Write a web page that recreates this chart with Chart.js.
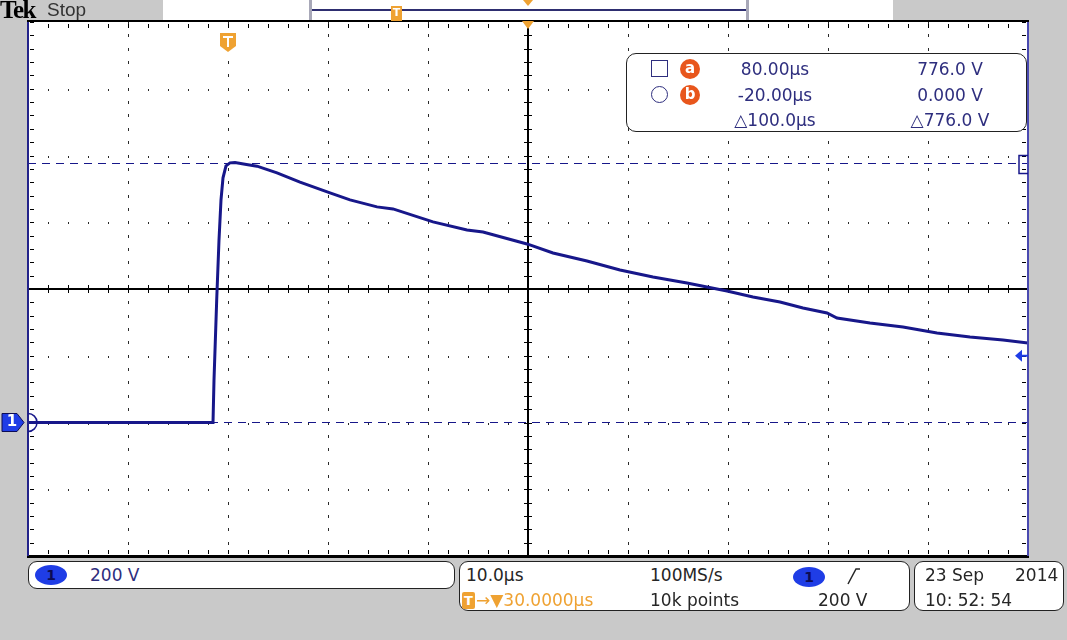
<!DOCTYPE html>
<html>
<head>
<meta charset="utf-8">
<script src="https://cdn.jsdelivr.net/npm/chart.js@4/dist/chart.umd.min.js"></script>
<style>
body{margin:0;background:#c9c9c9;width:1067px;height:640px;overflow:hidden;position:relative;font-family:"DejaVu Sans",sans-serif;}
#plot{position:absolute;left:0;top:0;}
.box{position:absolute;background:#fff;border:1.5px solid #222;border-radius:9px;box-sizing:border-box;}
.t{position:absolute;white-space:nowrap;font-size:17px;line-height:20px;color:#2e2e7e;}
.k{color:#262626;}
.or{color:#efa232;}
.ch{position:absolute;width:32px;height:20px;border-radius:50%;background:#1f3de6;color:#0c0c55;font:bold 14px "DejaVu Sans";text-align:center;line-height:20px;}
.ab{position:absolute;width:20px;height:20px;border-radius:50%;background:#e8561c;color:#fff;font:bold 15px "DejaVu Sans";text-align:center;line-height:19px;}
.sq{position:absolute;width:17px;height:17px;border:1.5px solid #2e2e7e;box-sizing:border-box;}
</style>
</head>
<body>
<canvas id="plot" width="1067" height="640"></canvas>

<!-- top status bar -->
<div class="t" style="left:0;top:-2px;font:bold 25px 'Liberation Serif';color:#000;letter-spacing:-1.5px;line-height:24px">Tek</div>
<div class="t" style="left:47px;top:-1px;font:19px 'Liberation Sans';color:#333;line-height:22px">Stop</div>
<div style="position:absolute;left:163px;top:0;width:730px;height:20px;background:#fff"></div>
<div style="position:absolute;left:309px;top:0;width:3px;height:20px;background:#a8a8b8"></div>
<div style="position:absolute;left:746px;top:0;width:3px;height:20px;background:#a8a8b8"></div>
<div style="position:absolute;left:312px;top:9px;width:434px;height:2px;background:#2e2e70"></div>
<div style="position:absolute;left:391px;top:6px;width:11px;height:15px;background:#efa232;color:#fff;font:bold 11px 'DejaVu Sans';text-align:center;line-height:14px">T</div>
<div style="position:absolute;left:523px;top:0;width:0;height:0;border-left:5px solid transparent;border-right:5px solid transparent;border-top:6px solid #efa232"></div>

<!-- ground marker label -->
<div id="gnd" class="t" style="left:5px;top:412px;width:14px;text-align:center;font:bold 15px 'DejaVu Sans';color:#fff">1</div>

<!-- cursor readout -->
<div class="box" style="left:626px;top:53px;width:401px;height:79px;border-radius:10px"></div>
<div class="sq" style="left:651px;top:60px"></div>
<div class="ab" style="left:680px;top:59px">a</div>
<div class="sq" style="left:651px;top:86px;border-radius:50%"></div>
<div class="ab" style="left:680px;top:85px">b</div>
<div class="t" style="left:700px;top:59px;width:150px;text-align:center">80.00µs</div>
<div class="t" style="left:700px;top:85px;width:150px;text-align:center">-20.00µs</div>
<div class="t" style="left:700px;top:110px;width:150px;text-align:center">△100.0µs</div>
<div class="t" style="left:875px;top:59px;width:150px;text-align:center">776.0 V</div>
<div class="t" style="left:875px;top:85px;width:150px;text-align:center">0.000 V</div>
<div class="t" style="left:875px;top:110px;width:150px;text-align:center">△776.0 V</div>

<!-- bottom: channel box -->
<div class="box" style="left:28px;top:561px;width:427px;height:28px"></div>
<div class="ch" style="left:35px;top:565px">1</div>
<div class="t" style="left:90px;top:565px">200 V</div>

<!-- bottom: horizontal / trigger box -->
<div class="box" style="left:459px;top:561px;width:451px;height:50px"></div>
<div class="t k" style="left:466px;top:565px">10.0µs</div>
<div class="t k" style="left:650px;top:565px">100MS/s</div>
<div class="ch" style="left:793px;top:567px">1</div>
<svg style="position:absolute;left:845px;top:566px" width="18" height="20"><polyline points="3,18 11,3 15,3" fill="none" stroke="#262626" stroke-width="1.5"/></svg>
<div style="position:absolute;left:462px;top:592px;width:13px;height:17px;background:#efa232;color:#fff;font:bold 13px 'DejaVu Sans';text-align:center;line-height:17px;border-radius:2px">T</div>
<div class="t or" style="left:476px;top:590px">→▼30.0000µs</div>
<div class="t k" style="left:650px;top:590px">10k points</div>
<div class="t k" style="left:818px;top:590px">200 V</div>

<!-- bottom: date box -->
<div class="box" style="left:914px;top:561px;width:150px;height:50px"></div>
<div class="t k" style="left:925px;top:565px">23 Sep</div>
<div class="t k" style="left:1015px;top:565px">2014</div>
<div class="t k" style="left:925px;top:590px">10: 52: 54</div>

<script>
// ====== DATA (time relative to trigger, µs / channel 1 volts) ======
const timeUs = [-20, -15, -10, -5, -1.5, -1.4, -1.13, -0.9, -0.7, -0.5, -0.2,
  0.2, 0.7, 1.7, 2.9, 4.9, 7.2, 10.2, 12.2, 14.9, 16.5, 20.5, 23.9, 25.5, 29.9,
  32.5, 35.9, 39.2, 42.5, 45.9, 49.9, 52.5, 55.2, 57.5, 59.9, 60.9, 64.2, 67.5,
  70.9, 74.2, 77.5, 80];
const voltsV = [0, 0, 0, 0, 0, 127, 367, 547, 667, 733, 769,
  778, 779, 774, 768, 748, 720, 688, 667, 646, 640, 601, 577, 571, 535,
  508, 484, 457, 436, 418, 394, 376, 361, 343, 328, 313, 298, 286,
  268, 256, 247, 238];

// ====== SCALE SETTINGS (10 µs/div, 200 V/div) ======
const xRange = [-20, 80];
const xStep = 10;
const yRange = [-400, 1200];
const yStep = 200;
const cursorA = { t: 80, v: 776 };
const cursorB = { t: -20, v: 0 };
const triggerTime = 0;
const triggerLevel = 200;
const groundLevel = 0;

const NAVY = "#17178a";
const BLUE = "#1f3de6";
const ORANGE = "#efa232";

// ====== SCOPE GRATICULE + MARKERS ======
const scopePlugin = {
  id: "scope",
  beforeDraw(c) {
    const { ctx, chartArea: a } = c;
    ctx.save();
    ctx.fillStyle = "#fff";
    ctx.fillRect(a.left, a.top, a.right - a.left, a.bottom - a.top);
    ctx.restore();
  },
  beforeDatasetsDraw(c) {
    const { ctx, chartArea: a } = c;
    const xs = c.scales.x, ys = c.scales.y;
    const xMid = (xRange[0] + xRange[1]) / 2, yMid = (yRange[0] + yRange[1]) / 2;
    const X = v => Math.round(xs.getPixelForValue(v));
    const Y = v => Math.round(ys.getPixelForValue(v));
    ctx.save();
    ctx.fillStyle = "#2a2a2a";
    // dotted vertical grid
    for (let t = xRange[0] + xStep; t < xRange[1]; t += xStep) {
      if (t === xMid) continue;
      for (let v = yRange[0]; v <= yRange[1]; v += yStep / 5) ctx.fillRect(X(t), Y(v) - 1, 1, 3);
    }
    // dotted horizontal grid
    for (let v = yRange[0] + yStep; v < yRange[1]; v += yStep) {
      if (v === yMid) continue;
      for (let t = xRange[0]; t <= xRange[1]; t += xStep / 5) ctx.fillRect(X(t), Y(v), 1, 2);
    }
    // center axes
    ctx.fillStyle = "#000";
    ctx.fillRect(a.left, Y(yMid) - 1, a.right - a.left, 2);
    ctx.fillRect(X(xMid) - 1, a.top, 2, a.bottom - a.top);
    for (let t = xRange[0]; t <= xRange[1]; t += xStep / 5) {
      ctx.fillRect(X(t), Y(yMid) - 4, 1, 8);
      ctx.fillRect(X(t), a.top + 2, 1, 4);
      ctx.fillRect(X(t), a.bottom - 6, 1, 4);
    }
    for (let v = yRange[0]; v <= yRange[1]; v += yStep / 5) {
      ctx.fillRect(X(xMid) - 4, Y(v), 8, 1);
      ctx.fillRect(a.left + 2, Y(v), 4, 1);
      ctx.fillRect(a.right - 6, Y(v), 4, 1);
    }
    // cursor lines
    ctx.strokeStyle = NAVY;
    ctx.lineWidth = 1;
    ctx.setLineDash([8, 6]);
    [cursorA.v, cursorB.v].forEach(v => {
      ctx.beginPath();
      ctx.moveTo(a.left, Y(v) - 0.5);
      ctx.lineTo(a.right, Y(v) - 0.5);
      ctx.stroke();
    });
    ctx.restore();
  },
  afterDatasetsDraw(c) {
    const { ctx, chartArea: a } = c;
    const xs = c.scales.x, ys = c.scales.y;
    const X = v => xs.getPixelForValue(v);
    const Y = v => ys.getPixelForValue(v);
    ctx.save();
    // frame
    ctx.fillStyle = "#000";
    ctx.fillRect(a.left - 1, a.top - 2, a.right - a.left + 2, 2);
    ctx.fillRect(a.left - 1, a.bottom - 1, a.right - a.left + 2, 3);
    ctx.fillStyle = "#22228a";
    ctx.fillRect(a.left - 1, a.top, 2, a.bottom - a.top);
    ctx.fillStyle = "#4a4ab0";
    ctx.fillRect(a.right - 1, a.top, 2, a.bottom - a.top);

    // cursor markers (clipped to the graticule)
    ctx.save();
    ctx.beginPath();
    ctx.rect(a.left, a.top, a.right - a.left, a.bottom - a.top);
    ctx.clip();
    ctx.strokeStyle = NAVY;
    ctx.lineWidth = 1.5;
    ctx.strokeRect(X(cursorA.t) - 9, Y(cursorA.v) - 8, 18, 18);
    ctx.beginPath();
    ctx.arc(X(cursorB.t), Y(cursorB.v), 9, 0, Math.PI * 2);
    ctx.stroke();
    ctx.restore();

    // trigger position marker
    const tx = X(triggerTime);
    ctx.fillStyle = ORANGE;
    ctx.beginPath();
    ctx.moveTo(tx - 8, 33);
    ctx.lineTo(tx + 8, 33);
    ctx.lineTo(tx + 8, 46);
    ctx.lineTo(tx, 52);
    ctx.lineTo(tx - 8, 46);
    ctx.closePath();
    ctx.fill();
    ctx.fillStyle = "#fff";
    ctx.fillRect(tx - 5, 36, 10, 2);
    ctx.fillRect(tx - 1, 36, 2, 11);
    // horizontal position marker
    const cx = X((xRange[0] + xRange[1]) / 2);
    ctx.fillStyle = ORANGE;
    ctx.beginPath();
    ctx.moveTo(cx - 6, a.top - 1);
    ctx.lineTo(cx + 6, a.top - 1);
    ctx.lineTo(cx, a.top + 7);
    ctx.closePath();
    ctx.fill();

    // trigger level marker (right edge)
    const ty = Y(triggerLevel);
    ctx.fillStyle = BLUE;
    ctx.beginPath();
    ctx.moveTo(a.right - 13, ty);
    ctx.lineTo(a.right - 6, ty - 6);
    ctx.lineTo(a.right - 6, ty + 6);
    ctx.closePath();
    ctx.fill();
    ctx.fillRect(a.right - 7, ty - 1, 7, 2);

    // channel 1 ground marker (left edge)
    const gy = Y(groundLevel);
    ctx.fillStyle = BLUE;
    ctx.strokeStyle = "#0c0c55";
    ctx.lineWidth = 1;
    ctx.beginPath();
    ctx.moveTo(2, gy - 9);
    ctx.lineTo(17, gy - 9);
    ctx.lineTo(24, gy);
    ctx.lineTo(17, gy + 9);
    ctx.lineTo(2, gy + 9);
    ctx.closePath();
    ctx.fill();
    ctx.stroke();
    document.getElementById("gnd").style.top = (gy - 11) + "px";
    ctx.restore();
  }
};

new Chart(document.getElementById("plot"), {
  type: "line",
  data: {
    datasets: [{
      data: timeUs.map((t, i) => ({ x: t, y: voltsV[i] })),
      borderColor: NAVY,
      borderWidth: 3,
      pointRadius: 0,
      tension: 0
    }]
  },
  options: {
    responsive: false,
    animation: false,
    devicePixelRatio: 1,
    layout: { padding: { left: 28, top: 22, right: 39, bottom: 84 } },
    plugins: { legend: { display: false }, tooltip: { enabled: false } },
    scales: {
      x: { type: "linear", min: xRange[0], max: xRange[1], display: false },
      y: { type: "linear", min: yRange[0], max: yRange[1], display: false }
    }
  },
  plugins: [scopePlugin]
});
</script>
</body>
</html>
